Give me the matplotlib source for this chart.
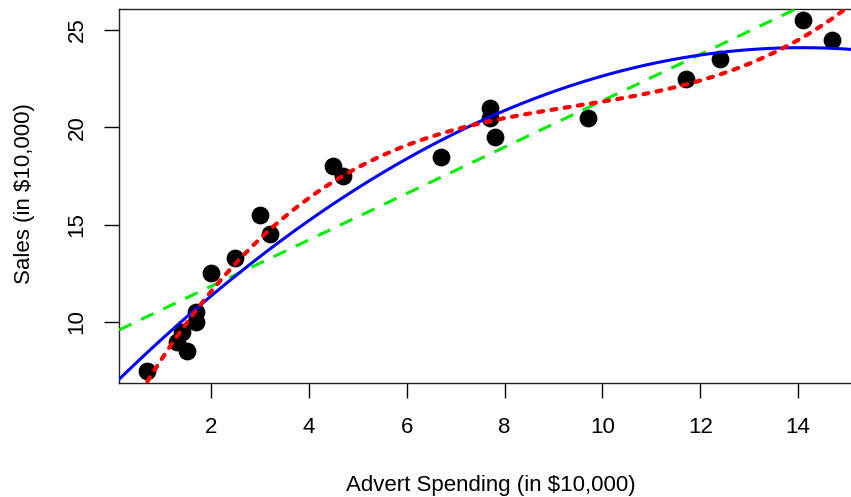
import numpy as np
import matplotlib
matplotlib.use("Agg")
import matplotlib.pyplot as plt

plt.rcParams['font.family'] = ['Liberation Sans', 'DejaVu Sans']

advert = [0.7, 1.3, 1.4, 1.5, 1.7, 1.7, 2.0, 2.5, 3.0, 3.2, 4.5, 4.7,
          6.7, 7.7, 7.7, 7.8, 9.7, 11.7, 12.4, 14.1, 14.7]
sales = [7.5, 9.0, 9.5, 8.5, 10.5, 10.0, 12.5, 13.3, 15.5, 14.5, 18.0, 17.5,
         18.5, 21.0, 20.5, 19.5, 20.5, 22.5, 23.5, 25.5, 24.5]
xticks = [2, 4, 6, 8, 10, 12, 14]
yticks = [10, 15, 20, 25]

x = np.array(advert)
y = np.array(sales)

fig = plt.figure(figsize=(8.51, 4.97), dpi=100)
ax = fig.add_axes([119/851, 1 - 383/497, 1 - 119/851, (383 - 9)/497])
xlo, xhi = 0.12, 15.08
ylo, yhi = 6.87, 26.08

xs = np.linspace(xlo, xhi, 300)
p1 = np.polyfit(x, y, 1)
p2 = np.polyfit(x, y, 2)
p3 = np.polyfit(x, y, 3)
xs3 = np.linspace(x.min(), xhi, 300)

ax.plot(x, y, 'o', color='black', markersize=11.8, zorder=2)
ax.plot(xs, np.polyval(p1, xs), color='#00ee00', lw=2.2, dashes=(4.5, 3.5), zorder=3)
ax.plot(xs, np.polyval(p2, xs), color='#0000ff', lw=2.2, zorder=3)
ax.plot(xs3, np.polyval(p3, xs3), color='#ff0000', lw=3, dashes=(1.2, 2.0),
        dash_capstyle='round', zorder=4)

ax.set_xlim(xlo, xhi)
ax.set_ylim(ylo, yhi)
ax.set_xticks(xticks)
ax.set_yticks(yticks)
ax.tick_params(length=10.5, width=1, labelsize=16, colors='black')
ax.tick_params(axis='x', pad=14)
ax.tick_params(axis='y', pad=12)
for lab in ax.get_yticklabels():
    lab.set_rotation(90)
    lab.set_va('center')
ax.spines['right'].set_visible(False)
for s in ['left', 'bottom', 'top']:
    ax.spines[s].set_linewidth(1)
    ax.spines[s].set_color('#222222')

fig.text(491/851, 1 - 485/497, 'Advert Spending (in $10,000)', ha='center', va='center', fontsize=16)
fig.text(25/851, 1 - 194/497, 'Sales (in $10,000)', ha='center', va='center', fontsize=16, rotation=90)

fig.savefig('out.png', dpi=100)
